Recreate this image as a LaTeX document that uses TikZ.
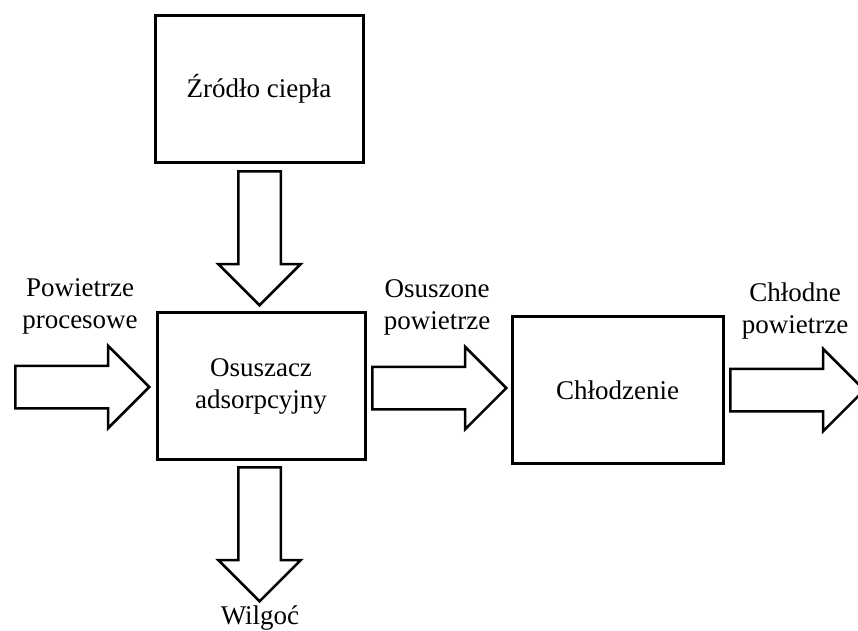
\documentclass[tikz,border=0pt]{standalone}
\usepackage{fontspec}
\setmainfont{Liberation Serif}
\usetikzlibrary{positioning}
\usetikzlibrary{shapes.arrows}

\begin{document}
\begin{tikzpicture}[x=1pt,y=-1pt,
	box/.style={draw,line width=3pt,minimum width=208pt,minimum height=147pt,align=center,font=\fontsize{27}{32}\selectfont},
	fatarrow/.style={draw,line width=2.5pt,single arrow,single arrow head extend=20pt,minimum width=80pt,minimum height=134pt,inner sep=20pt,anchor=tail},
	lbl/.style={align=center,font=\fontsize{27}{32}\selectfont}]
	\useasboundingbox (0,0) rectangle (858,630);
	\node[box] (zrodlo) at (259,88.5) {Źródło ciepła};
	\node[box] (osuszacz) at (261,386) {Osuszacz\\adsorpcyjny};
	\node[box,minimum width=211pt] (chlodzenie) at (617.5,390) {Chłodzenie};
	\node[fatarrow] (wlot) at (14,387) {};
	\node[fatarrow,shape border rotate=270] (cieplo) at (259.5,170) {};
	\node[fatarrow] (posrednia) at (371,388) {};
	\node[fatarrow] (wylot) at (729,390) {};
	\node[fatarrow,shape border rotate=270] (odplyw) at (259.5,466) {};
	\node[lbl] (wlotopis) at (80,306) {Powietrze\\procesowe};
	\node[lbl] (posredniaopis) at (437,307) {Osuszone\\powietrze};
	\node[lbl] (wylotopis) at (795,311) {Chłodne\\powietrze};
	\node[lbl,anchor=base] (odplywopis) at (260,624) {Wilgoć};
\end{tikzpicture}
\end{document}
